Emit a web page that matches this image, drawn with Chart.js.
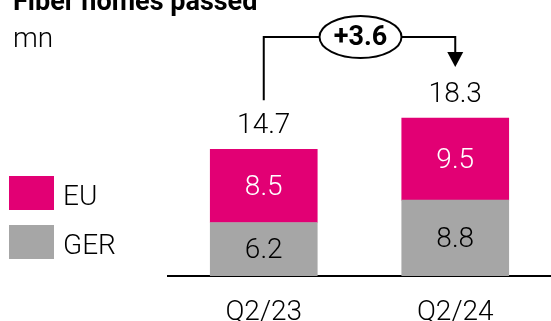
<!DOCTYPE html>
<html>
<head>
<meta charset="utf-8">
<script src="https://cdn.jsdelivr.net/npm/chart.js@4"></script>
<style>
  html, body { margin: 0; padding: 0; background: #fff; }
  #wrap { width: 551px; height: 321px; position: relative; }
</style>
</head>
<body>
<div id="wrap"><canvas id="chart" width="551" height="321"></canvas></div>
<script>
// data
const categories = ['Q2/23', 'Q2/24'];
const gerValues = [6.2, 8.8];
const euValues = [8.5, 9.5];
const deltaLabel = '+3.6';

const MAGENTA = '#e20074';
const GREY = '#a6a6a6';
const FONT = 'Roboto, "DejaVu Sans", sans-serif';

// title, legend, totals, bracket
const overlay = {
  id: 'overlay',
  afterDraw(chart) {
    const ctx = chart.ctx;
    const x = chart.scales.x, y = chart.scales.y;
    ctx.save();
    ctx.fillStyle = '#000';
    ctx.textBaseline = 'alphabetic';
    ctx.textAlign = 'left';
    ctx.font = 'bold 27px ' + FONT;
    ctx.fillText('Fiber homes passed', 13, 10);
    ctx.font = '300 28px ' + FONT;
    ctx.fillText('mn', 13, 47);

    // legend
    ctx.fillStyle = MAGENTA;
    ctx.fillRect(9, 176, 45, 34);
    ctx.fillStyle = GREY;
    ctx.fillRect(9, 225, 45, 34);
    ctx.fillStyle = '#000';
    ctx.fillText('EU', 63, 205);
    ctx.fillText('GER', 63, 254);

    // values inside bars
    ctx.textAlign = 'center';
    ctx.textBaseline = 'middle';
    const metaG = chart.getDatasetMeta(0), metaE = chart.getDatasetMeta(1);
    metaG.data.forEach((b, i) => {
      ctx.fillStyle = '#000';
      ctx.fillText(gerValues[i].toFixed(1), b.x, (b.y + b.base) / 2 + 2);
    });
    metaE.data.forEach((b, i) => {
      ctx.fillStyle = '#fff';
      ctx.fillText(euValues[i].toFixed(1), b.x, (b.y + b.base) / 2 + 2);
    });

    // totals
    ctx.fillStyle = '#000';
    const tops = [];
    categories.forEach((c, i) => {
      const tot = gerValues[i] + euValues[i];
      const px = x.getPixelForValue(i);
      const py = y.getPixelForValue(tot);
      tops.push([px, py]);
      ctx.fillText(tot.toFixed(1), px, py - 23);
    });

    // bracket with bubble and arrow
    const lineY = 37;
    const ex = (tops[0][0] + tops[1][0]) / 2 + 1, ew = 41, eh = 21;
    ctx.strokeStyle = '#000';
    ctx.lineWidth = 2;
    ctx.beginPath();
    ctx.moveTo(tops[0][0], tops[0][1] - 49);
    ctx.lineTo(tops[0][0], lineY);
    ctx.lineTo(ex - ew, lineY);
    ctx.moveTo(ex + ew, lineY);
    ctx.lineTo(tops[1][0], lineY);
    ctx.lineTo(tops[1][0], 53);
    ctx.stroke();
    ctx.fillStyle = '#000';
    ctx.beginPath();
    ctx.moveTo(tops[1][0] - 8, 52);
    ctx.lineTo(tops[1][0] + 8, 52);
    ctx.lineTo(tops[1][0], 67);
    ctx.closePath();
    ctx.fill();
    ctx.beginPath();
    ctx.ellipse(ex, lineY, ew, eh, 0, 0, Math.PI * 2);
    ctx.stroke();
    ctx.font = 'bold 27px ' + FONT;
    ctx.fillText(deltaLabel, ex, lineY + 1);
    ctx.restore();
  }
};

new Chart(document.getElementById('chart'), {
  type: 'bar',
  data: {
    labels: categories,
    datasets: [
      { label: 'GER', data: gerValues, backgroundColor: GREY },
      { label: 'EU', data: euValues, backgroundColor: MAGENTA }
    ]
  },
  options: {
    responsive: false,
    animation: false,
    font: { family: FONT },
    layout: { padding: { left: 168, right: 0, top: 0, bottom: 0 } },
    plugins: { legend: { display: false }, tooltip: { enabled: false } },
    datasets: { bar: { barThickness: 107 } },
    scales: {
      x: {
        stacked: true,
        grid: { display: false },
        border: { display: true, color: '#000', width: 2 },
        ticks: { color: '#000', font: { family: FONT, size: 28, weight: '300' }, padding: 12 },
        afterFit(s) { s.height = 45; }
      },
      y: {
        stacked: true,
        display: false,
        min: 0,
        max: 32
      }
    }
  },
  plugins: [overlay]
});
</script>
</body>
</html>
